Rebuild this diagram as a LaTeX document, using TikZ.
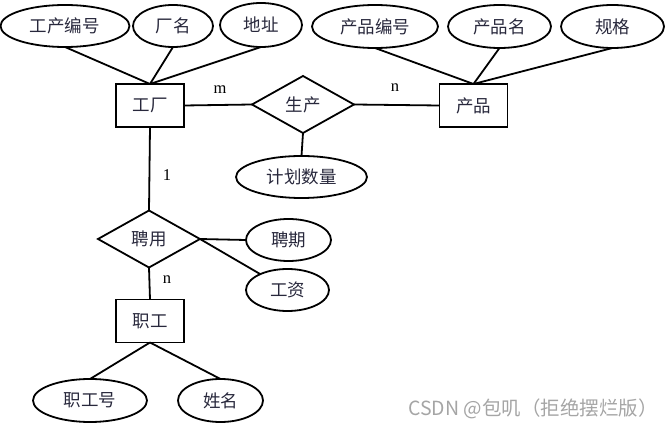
\documentclass[tikz,border=0pt]{standalone}
\usepackage{fontspec}
\setmainfont{Liberation Serif}
\newfontfamily\cjk{Noto Sans CJK SC}
\usetikzlibrary{shapes.geometric}
\definecolor{txt}{RGB}{40,40,60}
\definecolor{wm}{RGB}{165,165,165}
\begin{document}
\begin{tikzpicture}[x=1pt,y=-1pt,
  every node/.style={inner sep=0pt,outer sep=0pt,line width=1.8pt,text=txt,font=\cjk\fontsize{17.5}{19}\selectfont},
  attr/.style={draw,ellipse},
  ent/.style={draw,rectangle,minimum width=68pt,minimum height=43pt},
  rel/.style={draw,diamond,minimum width=102pt,minimum height=57pt},
  card/.style={text=black,font=\fontsize{16.5}{18}\selectfont},
  conn/.style={line width=1.8pt}]
\useasboundingbox (0,0) rectangle (667,430);
% entities
\node[ent] (gc) at (150,105.5) {工厂};
\node[ent] (cp) at (473.5,105.5) {产品};
\node[ent] (zg) at (150,321) {职工};
% relations
\node[rel] (sc) at (303,104.5) {生产};
\node[rel] (py) at (149,239) {聘用};
% attributes
\node[attr,minimum width=129pt,minimum height=42pt] (a1) at (65,26) {工产编号};
\node[attr,minimum width=80pt,minimum height=42pt] (a2) at (173,26) {厂名};
\node[attr,minimum width=82pt,minimum height=44pt] (a3) at (261,25) {地址};
\node[attr,minimum width=126pt,minimum height=43pt] (b1) at (375,26.5) {产品编号};
\node[attr,minimum width=103pt,minimum height=43pt] (b2) at (499.5,26.5) {产品名};
\node[attr,minimum width=103pt,minimum height=43pt] (b3) at (612.5,26.5) {规格};
\node[attr,minimum width=131pt,minimum height=42pt] (jh) at (301.5,177) {计划数量};
\node[attr,minimum width=85pt,minimum height=42pt] (pq) at (288.5,240) {聘期};
\node[attr,minimum width=83pt,minimum height=42pt] (gz) at (287.5,290) {工资};
\node[attr,minimum width=114pt,minimum height=43pt] (zh) at (90,400.5) {职工号};
\node[attr,minimum width=85pt,minimum height=43pt] (xm) at (220.5,400.5) {姓名};
% connectors
\draw[conn] (a1.south) -- (gc.north);
\draw[conn] (a2.south) -- (gc.north);
\draw[conn] (a3.south) -- (gc.north);
\draw[conn] (b1.south) -- (cp.north);
\draw[conn] (b2.south) -- (cp.north);
\draw[conn] (b3.south) -- (cp.north);
\draw[conn] (gc.east) -- (sc.west);
\draw[conn] (sc.east) -- (cp.west);
\draw[conn] (sc.south) -- (jh.north);
\draw[conn] (gc.south) -- (py.north);
\draw[conn] (py.south) -- (zg.north);
\draw[conn] (py.east) -- (pq.west);
\draw[conn] (py.east) -- (gz);
\draw[conn] (zg.south) -- (zh.north);
\draw[conn] (zg.south) -- (xm.north);
% cardinalities
\node[card] (m1) at (220,90) {m};
\node[card] (n1) at (395,87.5) {n};
\node[card] (o1) at (167,175) {1};
\node[card] (n2) at (167,280) {n};
% watermark
\node[text=wm,font=\cjk\fontsize{19.5}{21}\selectfont] (wmk) at (533,409) {CSDN @包叽（拒绝摆烂版）};
\end{tikzpicture}
\end{document}
